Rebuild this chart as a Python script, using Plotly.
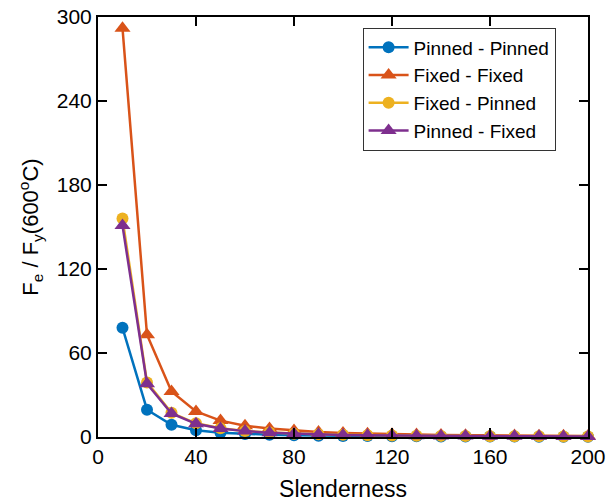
import plotly.graph_objects as go

slenderness = [10, 20, 30, 40, 50, 60, 70, 80, 90, 100, 110, 120, 130, 140, 150, 160, 170, 180, 190, 200]
pinned_pinned = [78, 19.5, 8.7, 4.9, 3.1, 2.2, 1.6, 1.2, 0.96, 0.78, 0.64, 0.54, 0.46, 0.40, 0.35, 0.30, 0.27, 0.24, 0.22, 0.20]
fixed_fixed = [292, 73, 32.5, 18.3, 11.7, 8.1, 6.0, 4.6, 3.6, 2.9, 2.4, 2.0, 1.7, 1.5, 1.3, 1.14, 1.01, 0.90, 0.81, 0.73]
fixed_pinned = [156, 39, 17.3, 9.8, 6.2, 4.3, 3.2, 2.4, 1.9, 1.56, 1.29, 1.08, 0.92, 0.80, 0.69, 0.61, 0.54, 0.48, 0.43, 0.39]
pinned_fixed = [151, 38, 16.8, 9.4, 6.0, 4.2, 3.1, 2.4, 1.9, 1.5, 1.25, 1.05, 0.89, 0.77, 0.67, 0.59, 0.52, 0.47, 0.42, 0.38]

series = [
    ("Pinned - Pinned", pinned_pinned, "#0072BD", "circle", 12),
    ("Fixed - Fixed", fixed_fixed, "#D95319", "triangle-up", 14),
    ("Fixed - Pinned", fixed_pinned, "#EDB120", "circle", 12),
    ("Pinned - Fixed", pinned_fixed, "#7E2F8E", "triangle-up", 14),
]

fig = go.Figure()
for name, vals, color, sym, sz in series:
    fig.add_trace(go.Scatter(
        x=slenderness, y=vals, name=name, mode="lines+markers",
        line=dict(color=color, width=2.5),
        marker=dict(color=color, symbol=sym, size=sz, line=dict(width=0)),
        cliponaxis=False,
    ))

font = "Arial, Liberation Sans, Helvetica, sans-serif"
axis_common = dict(
    showline=True, linecolor="black", linewidth=2, mirror="ticks",
    ticks="inside", ticklen=9, tickwidth=1.5, tickcolor="black",
    showgrid=False, zeroline=False, ticklabeloverflow="allow", automargin=False,
    tickfont=dict(family=font, size=21, color="black"),
)

fig.update_layout(
    width=607, height=504,
    margin=dict(l=98, r=19, t=17, b=67),
    plot_bgcolor="white", paper_bgcolor="white",
    font=dict(family=font, color="black"),
    xaxis=dict(range=[0, 200], tickvals=[0, 40, 80, 120, 160, 200],
               title=dict(text="Slenderness", font=dict(family=font, size=23), standoff=14),
               **axis_common),
    yaxis=dict(range=[0, 300], tickvals=[0, 60, 120, 180, 240, 300],
               title=dict(text="F<sub>e</sub> / F<sub>y</sub>(600<sup>o</sup>C)", font=dict(family=font, size=22), standoff=12),
               **axis_common),
    legend=dict(
        x=0.54, y=0.975, xanchor="left", yanchor="top",
        bgcolor="white", bordercolor="#333333", borderwidth=1,
        font=dict(family=font, size=19, color="black"),
        tracegroupgap=0, itemwidth=40,
    ),
)

fig.write_html("out.html")
